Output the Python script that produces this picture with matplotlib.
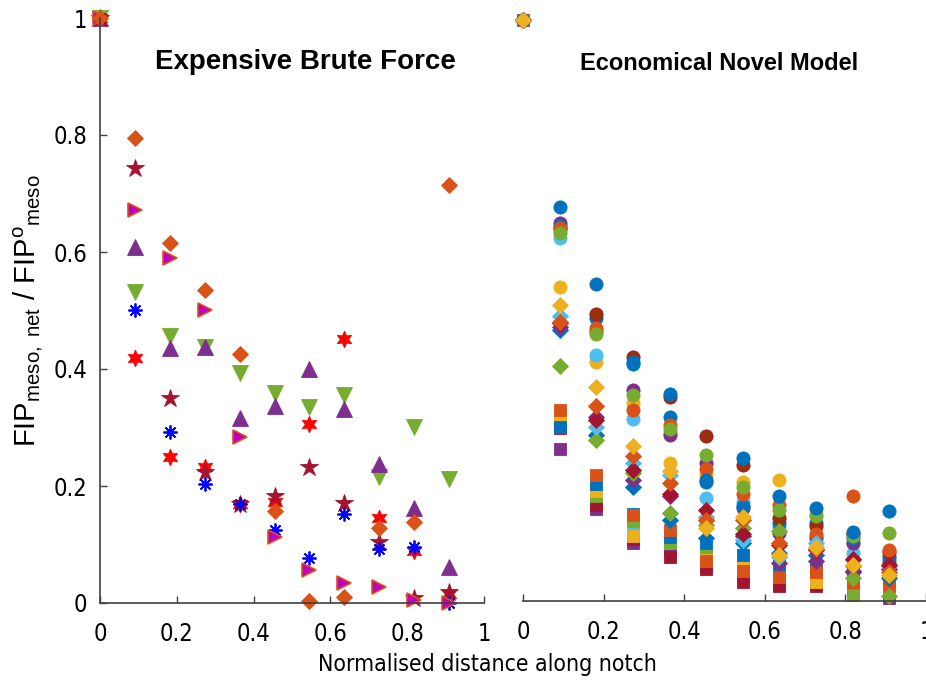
import matplotlib
matplotlib.use("Agg")
import matplotlib.pyplot as plt
import numpy as np
from matplotlib import font_manager
from matplotlib.font_manager import FontProperties

# distance positions along the notch (11 stations)
x = np.arange(11) / 11

# brute force runs
bf_diamond = [1, 0.795, 0.615, 0.535, 0.425, 0.158, 0.003, 0.011, 0.128, 0.139, 0.715]
bf_pentagram = [1, 0.743, 0.350, 0.224, 0.170, 0.183, 0.233, 0.171, 0.105, 0.008, 0.018]
bf_right = [1, 0.672, 0.589, 0.501, 0.284, 0.113, 0.056, 0.035, 0.027, 0.005, 0.0]
bf_up = [1, 0.608, 0.436, 0.437, 0.317, 0.336, 0.400, 0.331, 0.237, 0.163, 0.062]
bf_down = [1, 0.531, 0.456, 0.438, 0.394, 0.359, 0.335, 0.356, 0.216, 0.301, 0.212]
bf_asterisk = [1, 0.501, 0.293, 0.203, 0.169, 0.124, 0.077, 0.152, 0.092, 0.096, 0.0]
bf_hexagram = [1, 0.418, 0.249, 0.233, 0.169, 0.172, 0.306, 0.451, 0.145, 0.089, 0.015]

# novel model runs - circles
c_yellow = [1, 0.540, 0.412, 0.340, 0.237, 0.217, 0.205, 0.209, 0.150, 0.100, 0.080]
c_lightblue = [1, 0.624, 0.423, 0.314, 0.290, 0.177, 0.170, 0.127, 0.107, 0.082, 0.070]
c_purple = [1, 0.651, 0.465, 0.364, 0.286, 0.238, 0.160, 0.117, 0.110, 0.100, 0.066]
c_blue2 = [1, 0.645, 0.487, 0.408, 0.316, 0.205, 0.164, 0.134, 0.135, 0.108, 0.076]
c_darkred = [1, 0.640, 0.494, 0.420, 0.351, 0.284, 0.234, 0.142, 0.129, 0.115, 0.085]
c_orange = [1, 0.642, 0.470, 0.329, 0.303, 0.228, 0.185, 0.165, 0.116, 0.180, 0.088]
c_green = [1, 0.634, 0.460, 0.355, 0.296, 0.252, 0.196, 0.157, 0.146, 0.112, 0.117]
c_blue1 = [1, 0.678, 0.546, 0.412, 0.357, 0.209, 0.246, 0.181, 0.160, 0.119, 0.155]

# novel model runs - squares
s_purple = [1, 0.262, 0.158, 0.100, 0.087, 0.060, 0.045, 0.035, 0.040, 0.030, 0.005]
s_darkred = [1, 0.297, 0.165, 0.106, 0.075, 0.055, 0.032, 0.025, 0.025, 0.019, 0.012]
s_lightblue = [1, 0.309, 0.182, 0.125, 0.100, 0.083, 0.066, 0.060, 0.055, 0.045, 0.030]
s_green = [1, 0.315, 0.180, 0.137, 0.100, 0.080, 0.060, 0.050, 0.040, 0.010, 0.015]
s_yellow = [1, 0.318, 0.190, 0.112, 0.110, 0.070, 0.060, 0.050, 0.033, 0.040, 0.020]
s_blue = [1, 0.300, 0.201, 0.150, 0.110, 0.099, 0.079, 0.060, 0.060, 0.050, 0.035]
s_orange = [1, 0.328, 0.217, 0.148, 0.122, 0.068, 0.052, 0.042, 0.050, 0.033, 0.025]

# novel model runs - diamonds
d_blue = [1, 0.466, 0.286, 0.197, 0.139, 0.108, 0.100, 0.082, 0.080, 0.050, 0.040]
d_purple = [1, 0.472, 0.317, 0.208, 0.180, 0.140, 0.112, 0.065, 0.068, 0.052, 0.055]
d_green = [1, 0.405, 0.277, 0.220, 0.151, 0.130, 0.125, 0.120, 0.090, 0.040, 0.008]
d_lightblue = [1, 0.490, 0.300, 0.237, 0.217, 0.145, 0.105, 0.076, 0.100, 0.070, 0.060]
d_darkred = [1, 0.478, 0.311, 0.225, 0.185, 0.157, 0.116, 0.096, 0.087, 0.072, 0.062]
d_orange = [1, 0.480, 0.336, 0.250, 0.203, 0.140, 0.139, 0.100, 0.090, 0.060, 0.050]
d_yellow = [1, 0.509, 0.369, 0.266, 0.223, 0.125, 0.145, 0.079, 0.093, 0.062, 0.045]

ticks = [0, 0.2, 0.4, 0.6, 0.8, 1]
tick_labels = ['0', '0.2', '0.4', '0.6', '0.8', '1']

BLUE = '#0072BD'
ORANGE = '#D95319'
YELLOW = '#EDB120'
PURPLE = '#7E2F8E'
GREEN = '#77AC30'
LBLUE = '#4DBEEE'
DRED = '#A2142F'
BROWN = '#9A3009'

# pick a narrow face for the axis text if one is installed
narrow_file = None
for f in font_manager.fontManager.ttflist:
    if f.name == 'Liberation Sans Narrow' and f.weight in (400, 'normal') \
            and f.style == 'normal':
        narrow_file = f.fname
        break
if narrow_file is None:
    for f in font_manager.fontManager.ttflist:
        if 'condensed' in str(f.stretch) and f.name == 'DejaVu Sans' \
                and f.weight in (400, 'normal') and f.style == 'normal':
            narrow_file = f.fname
            break

if narrow_file is not None:
    tick_font = FontProperties(fname=narrow_file, size=17)
    xlab_font = FontProperties(fname=narrow_file, size=16.5)
else:
    tick_font = FontProperties(family='Liberation Sans', size=15.5)
    xlab_font = FontProperties(family='Liberation Sans', size=16.5)

plt.rcParams['mathtext.fontset'] = 'custom'
plt.rcParams['mathtext.rm'] = 'Liberation Sans'
plt.rcParams['mathtext.it'] = 'Liberation Sans'

fig = plt.figure(figsize=(9.26, 6.85), dpi=100)
ax1 = fig.add_axes([100 / 926, 82 / 685, 384 / 926, 585 / 685])
ax2 = fig.add_axes([523 / 926, 84 / 685, 403 / 926, 581 / 685])


def dots(ax, y, marker, face, edge=None, ms=9, mew=0.6):
    ax.plot(x, y, linestyle='none', marker=marker, markersize=ms,
            markerfacecolor=face, markeredgecolor=edge or face,
            markeredgewidth=mew, clip_on=False)


# left panel
dots(ax1, bf_down, 'v', GREEN, ms=11.5)
dots(ax1, bf_up, '^', PURPLE, ms=11.5)
dots(ax1, bf_hexagram, (6, 1, 0), 'red', ms=12)
dots(ax1, bf_pentagram, '*', DRED, ms=13.5)
ax1.plot(x, bf_asterisk, linestyle='none', marker=(8, 2, 0), markersize=10,
         markeredgecolor='blue', markeredgewidth=1.3, clip_on=False)
dots(ax1, bf_right, '>', '#C000C0', ORANGE, ms=10.5, mew=1.2)
dots(ax1, bf_diamond, 'D', ORANGE, ms=8.5)

# right panel
for y, c in [(s_purple, PURPLE), (s_darkred, DRED), (s_lightblue, LBLUE),
             (s_green, GREEN), (s_yellow, YELLOW), (s_blue, BLUE),
             (s_orange, ORANGE)]:
    dots(ax2, y, 's', c, ms=8.5)
for y, c, e in [(c_yellow, YELLOW, None), (c_lightblue, LBLUE, None),
                (c_purple, PURPLE, None), (c_blue2, BLUE, None),
                (c_darkred, BROWN, DRED), (c_orange, ORANGE, None),
                (c_green, GREEN, None), (c_blue1, BLUE, None)]:
    dots(ax2, y, 'o', c, e, ms=9.5)
for y, c in [(d_blue, BLUE), (d_purple, PURPLE), (d_green, GREEN),
             (d_lightblue, LBLUE), (d_darkred, DRED), (d_orange, ORANGE),
             (d_yellow, YELLOW)]:
    dots(ax2, y, 'D', c, ms=8.5)

for ax in (ax1, ax2):
    ax.set_xlim(0, 1)
    ax.set_ylim(0, 1)
    ax.spines['top'].set_visible(False)
    ax.spines['right'].set_visible(False)
    ax.set_xticks(ticks)
    ax.set_xticklabels(tick_labels, fontproperties=tick_font)
    ax.tick_params(direction='in', length=5, width=1, color='#404040', pad=14)
    for s in ax.spines.values():
        s.set_color('#404040')
        s.set_linewidth(1.2)

ax1.set_yticks(ticks)
ax1.set_yticklabels(tick_labels, fontproperties=tick_font)
ax1.tick_params(axis='y', pad=9)

ax2.spines['left'].set_visible(False)
ax2.set_yticks([])

ax1.text(0.534, 0.925, 'Expensive Brute Force', transform=ax1.transAxes,
         ha='center', va='center', fontsize=20, fontweight='bold',
         fontfamily='Liberation Sans')
ax2.text(0.487, 0.925, 'Economical Novel Model', transform=ax2.transAxes,
         ha='center', va='center', fontsize=17, fontweight='bold',
         fontfamily='Liberation Sans')

ax1.set_ylabel(r'FIP$_{\rm meso,\ net}$ / FIP$^{\rm o}{}_{\rm meso}$',
               fontfamily='Liberation Sans', fontsize=21, labelpad=6)
fig.text(487 / 926, 20 / 685, 'Normalised distance along notch',
         ha='center', va='center', fontproperties=xlab_font)

fig.savefig('out.png', dpi=100)
